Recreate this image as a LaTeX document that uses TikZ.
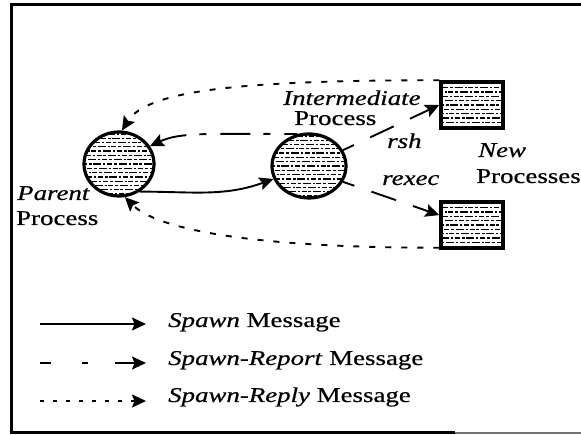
\documentclass[tikz,border=0pt]{standalone}
\usepackage{fontspec}
\setmainfont{Liberation Serif}[
  FakeStretch=1.28, FakeBold=0.6,
  ItalicFont={Liberation Serif Italic},
  ItalicFeatures={FakeStretch=1.28, FakeBold=0.6}]
\usetikzlibrary{arrows.meta,shapes.geometric,calc}

\tikzset{
  hatchline/.style={line width=1.3pt, black,
    dash pattern=on 5pt off 1.8pt on 3pt off 1.8pt on 8pt off 2pt on 2pt off 1.8pt},
  hatched/.style={path picture={
    \foreach \k in {-9,...,9}
      \draw[hatchline, dash phase={(\k+10)*5.3pt}]
        ([yshift=\k*4.3pt]path picture bounding box.west) --
        ([yshift=\k*4.3pt]path picture bounding box.east);}},
  proc/.style={ellipse, draw, line width=3.2pt, hatched,
    minimum width=70pt, minimum height=64pt, inner sep=0pt},
  newproc/.style={rectangle, draw, line width=3.5pt, hatched,
    minimum width=62pt, minimum height=46pt, inner sep=0pt},
  txt/.style={anchor=base west, inner sep=0pt},
  msg/.style={line width=1.9pt, -{Stealth[length=14pt,width=13pt,inset=2.5pt]}},
  spawn/.style={msg},
  report/.style={msg, dash pattern=on 30pt off 14pt on 7pt off 13pt, dash phase=17pt},
  remote/.style={msg, dash pattern=on 12pt off 18pt on 26pt off 18pt on 60pt},
  reply/.style={msg, dash pattern=on 6pt off 10pt},
  frame/.style={line width=3pt}
}

\begin{document}
\begin{tikzpicture}[x=1pt, y=1pt, font=\fontsize{21pt}{25pt}\selectfont]
\useasboundingbox (0,0) rectangle (581,435);

% outer frame
\draw[frame] (581,430) -- (11,430) -- (11,2) -- (455,2);
\draw[black!55, line width=1.5pt] (455,2) -- (581,2);

% processes
\node[proc] (P) at (119,271) {};
\node[proc, minimum width=74pt] (I) at (309,269) {};
\node[newproc] (N1) at (472,330) {};
\node[newproc] (N2) at (472,210) {};

% labels
\node[txt] (tInt)  at (283,330) {\textit{Intermediate}};
\node[txt] (tIntP) at (294,310) {Process};
\node[txt] (tRsh)  at (387,287) {\textit{rsh}};
\node[txt] (tRex)  at (382,250) {\textit{rexec}};
\node[txt] (tNew)  at (478,278) {\textit{New}};
\node[txt] (tNewP) at (476,252) {Processes};
\node[txt] (tPar)  at (17,235)  {\textit{Parent}};
\node[txt] (tParP) at (16,210)  {Process};

% messages
\draw[spawn] (P.-53) to[out=0, in=200] (I.200);
\draw[report] (I.110) .. controls +(-90,0) and +(30,14) .. (P.30);
\draw[remote] (I.25) -- (N1.west);
\draw[remote] (I.-25) -- ($(N2.north west)!0.3!(N2.south west)$);
\draw[reply] (N1.north west) .. controls +(-200,0) and +(25,40) .. (P.85);
\draw[reply] ([yshift=2pt]N2.south west) .. controls +(-200,0) and +(30,-30) .. (P.-80);

% legend
\coordinate (a1) at (40,111);  \coordinate (b1) at (146,111);
\coordinate (a2) at (40,72);   \coordinate (b2) at (146,72);
\coordinate (a3) at (40,34);   \coordinate (b3) at (146,34);
\draw[spawn] (a1) -- (b1);
\draw[msg, dash pattern=on 11pt off 31pt on 6pt off 27pt on 60pt] (a2) -- (b2);
\draw[msg, dash pattern=on 4pt off 9pt] (a3) -- (b3);
\node[txt] (l1) at (168,108) {\textit{Spawn} Message};
\node[txt] (l2) at (168,70)  {\textit{Spawn-Report} Message};
\node[txt] (l3) at (168,33)  {\textit{Spawn-Reply} Message};
\end{tikzpicture}
\end{document}
